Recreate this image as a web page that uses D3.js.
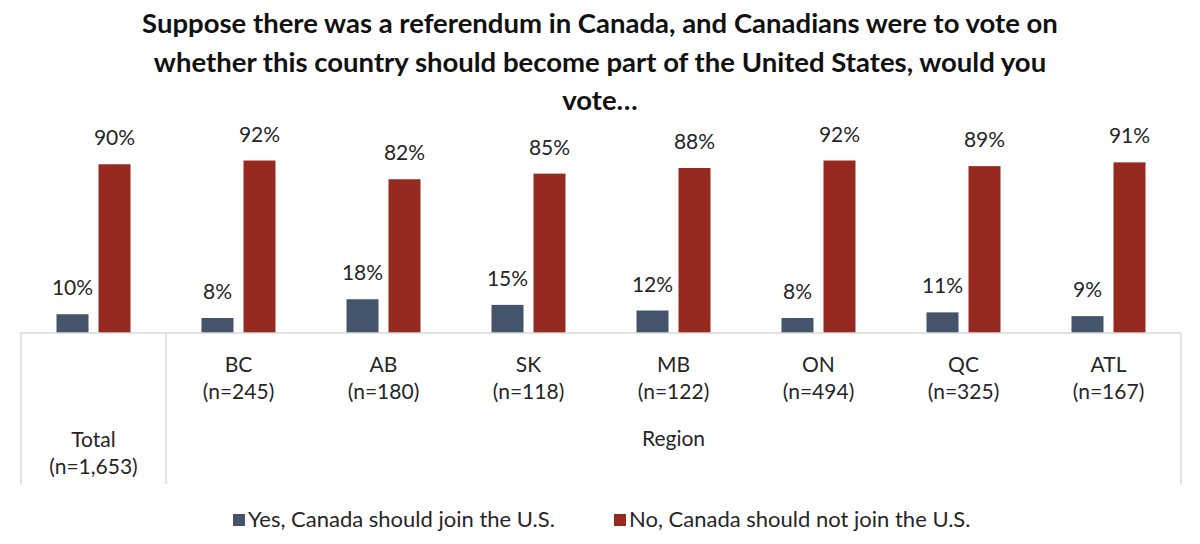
<!DOCTYPE html>
<html>
<head>
<meta charset="utf-8">
<script src="https://cdn.jsdelivr.net/npm/d3@7/dist/d3.min.js"></script>
<style>
  html, body { margin: 0; padding: 0; background: #fff; }
  svg { display: block; }
  text { font-family: Lato, "Open Sans", sans-serif; }
</style>
</head>
<body>
<svg id="chart" width="1200" height="544"></svg>
<script>
// ---- data ----
const titleLines = [
  "Suppose there was a referendum in Canada, and Canadians were to vote on",
  "whether this country should become part of the United States, would you",
  "vote…"
];
const categories = ["Total", "BC", "AB", "SK", "MB", "ON", "QC", "ATL"];
const sampleSizes = ["(n=1,653)", "(n=245)", "(n=180)", "(n=118)", "(n=122)", "(n=494)", "(n=325)", "(n=167)"];
const groupLabels = ["Total", "Region"];
const seriesNames = ["Yes, Canada should join the U.S.", "No, Canada should not join the U.S."];
const yesValues = [10, 8, 18, 15, 12, 8, 11, 9];
const noValues  = [90, 92, 82, 85, 88, 92, 89, 91];
const colors = ["#44546A", "#962A21"];

// ---- layout ----
const svg = d3.select("#chart");
const plotLeft = 21, plotRight = 1181;
const baseY = 333, topY = 145.5;
const textColor = "#262626";
const labelSize = 21;

const x = d3.scaleBand().domain(categories).range([plotLeft, plotRight]).paddingInner(0).paddingOuter(0);
const xs = d3.scaleBand().domain([0, 1]).range([35.5, 109.5]).paddingInner(10 / 42).paddingOuter(0);
const y = d3.scaleLinear().domain([0, 100]).range([baseY, topY]);

// title
svg.append("g").selectAll("text").data(titleLines).join("text")
  .attr("x", 600)
  .attr("y", (d, i) => 33 + i * 38.5)
  .attr("text-anchor", "middle")
  .attr("font-size", 27.5)
  .attr("font-weight", 700)
  .attr("fill", "#111")
  .text(d => d);

// bars
const rows = categories.map((c, i) => ({ cat: c, vals: [yesValues[i], noValues[i]] }));
const groups = svg.append("g").selectAll("g").data(rows).join("g")
  .attr("transform", d => `translate(${x(d.cat)},0)`);

groups.selectAll("rect").data(d => d.vals.map((v, k) => ({ k, v }))).join("rect")
  .attr("x", d => xs(d.k))
  .attr("width", xs.bandwidth())
  .attr("y", d => y(d.v))
  .attr("height", d => baseY - y(d.v))
  .attr("fill", d => colors[d.k]);

groups.selectAll("text.val").data(d => d.vals.map((v, k) => ({ k, v }))).join("text")
  .attr("class", "val")
  .attr("x", d => xs(d.k) + xs.bandwidth() / 2)
  .attr("y", d => y(d.v) - 19)
  .attr("text-anchor", "middle")
  .attr("font-size", labelSize)
  .attr("fill", textColor)
  .text(d => d.v + "%");

// axis lines
const axisColor = "#D9D9D9";
svg.append("line")
  .attr("x1", plotLeft).attr("x2", plotRight)
  .attr("y1", baseY).attr("y2", baseY)
  .attr("stroke", axisColor).attr("stroke-width", 1.5);

const dividers = [plotLeft, x("BC"), plotRight];
svg.append("g").selectAll("line").data(dividers).join("line")
  .attr("x1", d => d).attr("x2", d => d)
  .attr("y1", baseY).attr("y2", 484)
  .attr("stroke", axisColor).attr("stroke-width", 1.5);

// category tick labels (regions)
const regionCats = categories.slice(1);
const tickG = svg.append("g").selectAll("g").data(regionCats).join("g");
tickG.append("text")
  .attr("x", d => x(d) + x.bandwidth() / 2)
  .attr("y", 372)
  .attr("text-anchor", "middle").attr("font-size", labelSize).attr("fill", textColor)
  .text(d => d);
tickG.append("text")
  .attr("x", d => x(d) + x.bandwidth() / 2)
  .attr("y", 399)
  .attr("text-anchor", "middle").attr("font-size", labelSize).attr("fill", textColor)
  .text(d => sampleSizes[categories.indexOf(d)]);

// total label
svg.append("text")
  .attr("x", x("Total") + x.bandwidth() / 2).attr("y", 447)
  .attr("text-anchor", "middle").attr("font-size", labelSize).attr("fill", textColor)
  .text(groupLabels[0]);
svg.append("text")
  .attr("x", x("Total") + x.bandwidth() / 2).attr("y", 474)
  .attr("text-anchor", "middle").attr("font-size", labelSize).attr("fill", textColor)
  .text(sampleSizes[0]);

// region group label
svg.append("text")
  .attr("x", (x("BC") + plotRight) / 2).attr("y", 446)
  .attr("text-anchor", "middle").attr("font-size", labelSize).attr("fill", textColor)
  .text(groupLabels[1]);

// legend
const legendX = [233, 614];
const lg = svg.append("g").selectAll("g").data(seriesNames).join("g")
  .attr("transform", (d, i) => `translate(${legendX[i]},514)`);
lg.append("rect").attr("width", 12).attr("height", 12).attr("fill", (d, i) => colors[i]);
lg.append("text").attr("x", 15).attr("y", 13)
  .attr("font-size", 22).attr("fill", textColor)
  .text(d => d);
</script>
</body>
</html>
